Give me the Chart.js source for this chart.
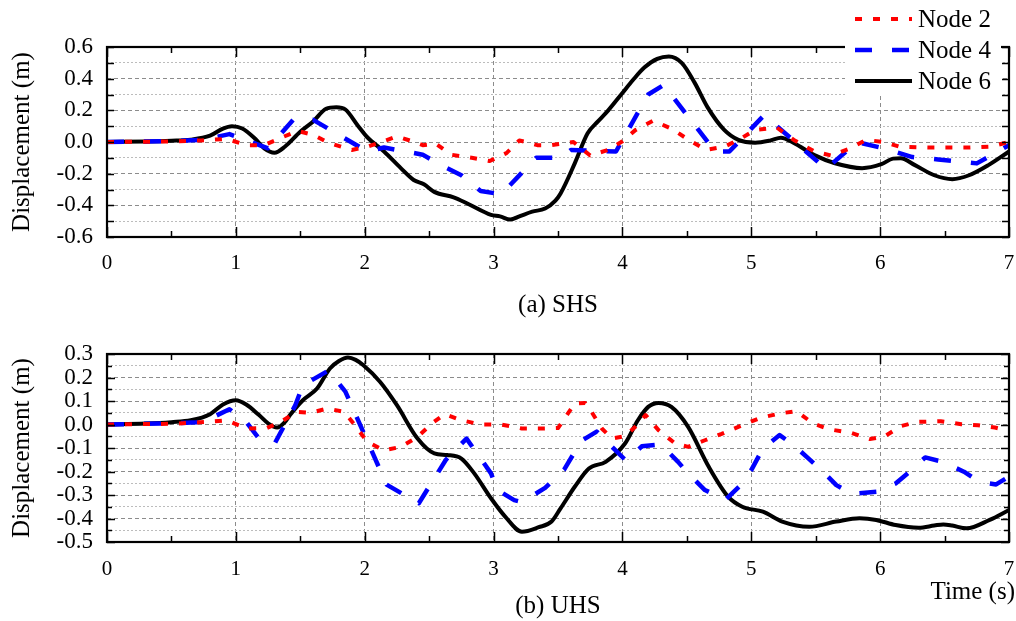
<!DOCTYPE html>
<html>
<head>
<meta charset="utf-8">
<script src="https://cdn.jsdelivr.net/npm/chart.js@4.4.1/dist/chart.umd.min.js"></script>
<style>
  html, body { margin: 0; padding: 0; background: #fff; }
  #wrap { position: relative; width: 1016px; height: 621px; overflow: hidden; background: #fff; }
  #shs { position: absolute; left: 0; top: 0; }
  #uhs { position: absolute; left: 0; top: 320px; }
</style>
</head>
<body>
<div id="wrap">
  <canvas id="shs" width="1016" height="320"></canvas>
  <canvas id="uhs" width="1016" height="301"></canvas>
</div>
<script>
// ---- (a) SHS : displacement histories (time in s, displacement in m) ----
const shsNode2T = [0, 0.5, 0.73, 0.93, 1.08, 1.22, 1.36, 1.48, 1.6, 1.72, 1.9, 2.02, 2.13, 2.25, 2.37, 2.45, 2.55, 2.67, 2.83, 2.97, 3.1, 3.2, 3.34, 3.45, 3.62, 3.75, 3.89, 4.0, 4.1, 4.24, 4.39, 4.52, 4.65, 4.79, 4.9, 5.03, 5.2, 5.33, 5.49, 5.62, 5.77, 5.89, 6.03, 6.15, 6.4, 6.7, 6.85, 7.0];
const shsNode2V = [0, 0.003, 0.01, 0.02, -0.02, -0.02, 0.03, 0.07, 0.045, -0.005, -0.05, -0.03, 0.0, 0.036, 0.004, -0.02, -0.01, -0.08, -0.1, -0.12, -0.07, 0.01, -0.02, -0.02, 0.0, -0.085, -0.05, 0.005, 0.075, 0.135, 0.08, 0.01, -0.05, -0.03, 0.013, 0.076, 0.09, 0.013, -0.06, -0.085, -0.04, 0.013, 0.0, -0.03, -0.035, -0.035, -0.03, 0.0];

const shsNode4T = [0, 0.5, 0.75, 0.95, 1.25, 1.45, 1.6, 2.02, 2.15, 2.45, 2.6, 2.75, 2.9, 3.06, 3.33, 3.52, 3.6, 3.95, 4.2, 4.32, 4.72, 4.83, 5.1, 5.58, 5.82, 6.03, 6.25, 6.45, 6.75, 7.0];
const shsNode4V = [0, 0.005, 0.015, 0.05, -0.04, 0.145, 0.14, -0.06, -0.035, -0.08, -0.15, -0.21, -0.31, -0.33, -0.1, -0.1, -0.05, -0.06, 0.3, 0.36, -0.06, -0.06, 0.17, -0.17, 0.0, -0.04, -0.095, -0.11, -0.135, -0.02];

const shsNode6T = [0, 0.3, 0.5, 0.65, 0.8, 0.9, 0.97, 1.05, 1.15, 1.22, 1.3, 1.38, 1.5, 1.6, 1.7, 1.78, 1.85, 1.95, 2.02, 2.15, 2.28, 2.38, 2.46, 2.54, 2.69, 2.8, 2.98, 3.05, 3.13, 3.2, 3.3, 3.4, 3.48, 3.52, 3.63, 3.73, 3.81, 3.89, 4.0, 4.08, 4.17, 4.27, 4.36, 4.46, 4.56, 4.66, 4.79, 4.9, 5.03, 5.15, 5.23, 5.33, 5.49, 5.65, 5.86, 6.01, 6.1, 6.16, 6.27, 6.42, 6.56, 6.69, 6.84, 7.0];
const shsNode6V = [0, 0.003, 0.008, 0.015, 0.04, 0.085, 0.1, 0.085, 0.02, -0.04, -0.068, -0.03, 0.065, 0.13, 0.21, 0.22, 0.205, 0.1, 0.03, -0.06, -0.165, -0.24, -0.267, -0.315, -0.35, -0.39, -0.46, -0.47, -0.49, -0.47, -0.44, -0.42, -0.37, -0.325, -0.135, 0.055, 0.13, 0.2, 0.31, 0.39, 0.47, 0.525, 0.54, 0.5, 0.375, 0.22, 0.076, 0.013, -0.004, 0.01, 0.027, -0.006, -0.083, -0.134, -0.165, -0.14, -0.105, -0.103, -0.146, -0.21, -0.235, -0.21, -0.146, -0.06];

// ---- (b) UHS ----
const uhsNode2T = [0, 0.5, 0.78, 0.93, 1.08, 1.24, 1.35, 1.47, 1.58, 1.71, 1.84, 1.92, 2.02, 2.15, 2.28, 2.41, 2.52, 2.62, 2.75, 2.9, 3.06, 3.22, 3.37, 3.5, 3.63, 3.71, 3.76, 3.84, 3.92, 4.02, 4.12, 4.18, 4.28, 4.41, 4.51, 4.64, 4.77, 4.93, 5.07, 5.22, 5.35, 5.48, 5.61, 5.77, 5.92, 6.03, 6.16, 6.29, 6.47, 6.63, 6.76, 6.89, 7.0];
const uhsNode2V = [0, 0.003, 0.011, 0.018, -0.017, -0.015, 0.011, 0.054, 0.05, 0.068, 0.054, 0.0, -0.074, -0.11, -0.095, -0.053, 0.004, 0.044, 0.018, 0.0, 0.0, -0.017, -0.017, -0.015, 0.089, 0.092, 0.054, -0.017, -0.06, -0.05, 0.0, 0.04, -0.024, -0.081, -0.095, -0.067, -0.04, -0.003, 0.028, 0.047, 0.057, 0.004, -0.021, -0.035, -0.062, -0.052, -0.007, 0.011, 0.014, 0.001, -0.003, -0.013, -0.027];

const uhsNode4T = [0, 0.5, 0.7, 0.8, 0.95, 1.08, 1.18, 1.3, 1.39, 1.46, 1.52, 1.72, 1.85, 2.17, 2.42, 2.63, 2.79, 2.9, 2.98, 3.03, 3.16, 3.22, 3.4, 3.55, 3.68, 3.8, 4.03, 4.15, 4.3, 4.43, 4.51, 4.64, 4.8, 4.93, 5.0, 5.09, 5.22, 5.33, 5.43, 5.57, 5.66, 5.78, 5.98, 6.12, 6.22, 6.35, 6.48, 6.65, 6.77, 6.9, 7.0];
const uhsNode4V = [0, 0.005, 0.01, 0.025, 0.065, 0.011, -0.06, -0.082, 0.01, 0.08, 0.167, 0.23, 0.14, -0.256, -0.335, -0.15, -0.06, -0.145, -0.208, -0.279, -0.322, -0.33, -0.27, -0.19, -0.07, -0.03, -0.155, -0.093, -0.085, -0.158, -0.208, -0.279, -0.32, -0.251, -0.194, -0.102, -0.045, -0.088, -0.138, -0.208, -0.258, -0.295, -0.286, -0.251, -0.205, -0.14, -0.158, -0.201, -0.244, -0.255, -0.222];

const uhsNode6T = [0, 0.3, 0.5, 0.65, 0.8, 0.9, 1.0, 1.08, 1.18, 1.25, 1.32, 1.38, 1.42, 1.52, 1.63, 1.73, 1.8, 1.87, 1.93, 1.99, 2.12, 2.25, 2.41, 2.54, 2.64, 2.75, 2.85, 2.98, 3.09, 3.22, 3.35, 3.45, 3.52, 3.63, 3.74, 3.87, 4.02, 4.12, 4.2, 4.28, 4.38, 4.51, 4.67, 4.82, 4.93, 5.09, 5.24, 5.45, 5.66, 5.84, 5.97, 6.12, 6.3, 6.42, 6.49, 6.56, 6.67, 6.85, 7.0];
const uhsNode6V = [0, 0.004, 0.01, 0.018, 0.044, 0.085, 0.103, 0.085, 0.04, 0.005, -0.013, 0.01, 0.04, 0.103, 0.153, 0.238, 0.27, 0.285, 0.275, 0.252, 0.181, 0.082, -0.06, -0.123, -0.13, -0.145, -0.208, -0.314, -0.392, -0.456, -0.437, -0.413, -0.357, -0.265, -0.187, -0.159, -0.081, 0.018, 0.075, 0.092, 0.075, -0.01, -0.18, -0.307, -0.35, -0.371, -0.413, -0.435, -0.413, -0.399, -0.406, -0.428, -0.439, -0.43, -0.425, -0.43, -0.442, -0.406, -0.364];

const seriesNames = ['Node 2', 'Node 4', 'Node 6'];
const timeTicks = [0, 1, 2, 3, 4, 5, 6, 7];

// ---- styling ----
const SERIF = "'Liberation Serif', 'Times New Roman', 'DejaVu Serif', serif";
const styles = [
  { color: '#ff0000', width: 4, dash: [7, 11] },
  { color: '#0000ff', width: 4.5, dash: [17, 20] },
  { color: '#000000', width: 4, dash: [] }
];

const toPoints = (ts, vs) => ts.map((t, i) => ({ x: t, y: vs[i] }));

// frame around the plot area with inward tick marks
const framePlugin = {
  id: 'frame',
  afterDatasetsDraw(chart, args, opts) {
    const { ctx, chartArea: a, scales } = chart;
    ctx.save();
    ctx.strokeStyle = '#000';
    ctx.lineWidth = 1.5;
    ctx.setLineDash([]);
    // x ticks every 0.5 s
    for (let k = 0; k <= 14; k++) {
      const v = k * 0.5;
      const px = Math.round(scales.x.getPixelForValue(v)) + 0.5;
      const len = (k % 2 === 0) ? 10 : 6;
      ctx.beginPath();
      ctx.moveTo(px, a.bottom); ctx.lineTo(px, a.bottom - len);
      ctx.moveTo(px, a.top); ctx.lineTo(px, a.top + len);
      ctx.stroke();
    }
    // y ticks at each minor step
    const y = scales.y;
    const n = Math.round((y.max - y.min) / opts.step);
    for (let k = 0; k <= n; k++) {
      const v = y.min + k * opts.step;
      const py = Math.round(y.getPixelForValue(v)) + 0.5;
      const len = (k % 2 === opts.majorParity) ? opts.major : opts.minor;
      ctx.beginPath();
      ctx.moveTo(a.left, py); ctx.lineTo(a.left + len, py);
      ctx.moveTo(a.right, py); ctx.lineTo(a.right - len, py);
      ctx.stroke();
    }
    ctx.lineWidth = 2.2;
    ctx.strokeRect(a.left, a.top, a.right - a.left, a.bottom - a.top);
    ctx.restore();
  }
};

// legend box in the upper right corner
const legendPlugin = {
  id: 'nodeLegend',
  afterDraw(chart, args, opts) {
    if (!opts.show) return;
    const ctx = chart.ctx;
    ctx.save();
    ctx.fillStyle = '#fff';
    ctx.fillRect(845, 0, 156, 95);
    const rows = [19, 50, 81];
    seriesNames.forEach((name, i) => {
      const s = styles[i];
      ctx.strokeStyle = s.color;
      ctx.lineWidth = s.width;
      ctx.setLineDash(s.dash);
      ctx.lineCap = 'butt';
      ctx.beginPath();
      ctx.moveTo(855, rows[i]);
      ctx.lineTo(912, rows[i]);
      ctx.stroke();
      ctx.setLineDash([]);
      ctx.fillStyle = '#000';
      ctx.font = '25px ' + SERIF;
      ctx.textAlign = 'left';
      ctx.textBaseline = 'middle';
      ctx.fillText(name, 918, rows[i] + 1);
    });
    ctx.restore();
  }
};

// time axis caption under the lower panel
const timeLabelPlugin = {
  id: 'timeLabel',
  afterDraw(chart, args, opts) {
    if (!opts.text) return;
    const ctx = chart.ctx;
    ctx.save();
    ctx.fillStyle = '#000';
    ctx.font = '25px ' + SERIF;
    ctx.textAlign = 'right';
    ctx.textBaseline = 'middle';
    ctx.fillText(opts.text, 1015, opts.y);
    ctx.restore();
  }
};

function makePanel(canvas, cfg) {
  const sets = [
    toPoints(cfg.t2, cfg.v2),
    toPoints(cfg.t4, cfg.v4),
    toPoints(cfg.t6, cfg.v6)
  ];
  const isMajor = (v) => Math.round(v / cfg.step) % 2 === 0;
  return new Chart(canvas, {
    type: 'line',
    data: {
      datasets: sets.map((d, i) => ({
        label: seriesNames[i],
        data: d,
        borderColor: styles[i].color,
        borderWidth: styles[i].width,
        borderDash: styles[i].dash,
        borderCapStyle: 'butt',
        borderJoinStyle: 'round',
        pointRadius: 0,
        fill: false,
        tension: 0,
        cubicInterpolationMode: i === 2 ? 'monotone' : 'default'
      }))
    },
    options: {
      responsive: false,
      animation: false,
      events: [],
      layout: { padding: { top: cfg.padTop, right: 7, left: 0, bottom: 0 } },
      plugins: {
        legend: { display: false },
        tooltip: { enabled: false },
        frame: { step: cfg.step, major: cfg.tickMajor, minor: cfg.tickMinor, majorParity: cfg.majorParity },
        nodeLegend: { show: cfg.legend },
        timeLabel: { text: cfg.timeText, y: cfg.timeY }
      },
      scales: {
        x: {
          type: 'linear',
          min: 0, max: 7,
          afterBuildTicks: (s) => { s.ticks = timeTicks.map(v => ({ value: v })); },
          ticks: {
            autoSkip: false, maxRotation: 0, padding: cfg.xPad,
            color: '#000', font: { family: SERIF, size: 21 },
            callback: (v) => String(v)
          },
          grid: { color: '#8c8c8c', lineWidth: 1, drawTicks: false },
          border: { display: false, dash: [4, 3] },
          title: {
            display: true, text: cfg.caption, color: '#000',
            font: { family: SERIF, size: 25 }, padding: { top: 0, bottom: 0 }
          },
          afterFit: (s) => { s.height = cfg.xHeight; s.paddingLeft = 0; s.paddingRight = 0; }
        },
        y: {
          min: cfg.yMin, max: cfg.yMax,
          ticks: {
            stepSize: cfg.step, autoSkip: false, padding: 14,
            color: '#000', font: { family: SERIF, size: 23 },
            callback: (v) => isMajor(v) ? (Math.round(v * 10) / 10).toFixed(1) : ''
          },
          grid: {
            lineWidth: 1, drawTicks: false,
            color: (c) => isMajor(c.tick.value) ? '#8c8c8c' : '#bcbcbc'
          },
          border: {
            display: false,
            dash: (c) => (c.tick && isMajor(c.tick.value)) ? [4, 3] : [2, 2]
          },
          title: {
            display: true, text: 'Displacement (m)', color: '#000',
            font: { family: SERIF, size: 25 }, padding: { top: 7, bottom: 0 }
          },
          afterFit: (s) => { s.width = 107; s.paddingTop = 0; s.paddingBottom = 0; }
        }
      }
    },
    plugins: [framePlugin, legendPlugin, timeLabelPlugin]
  });
}

makePanel(document.getElementById('shs'), {
  t2: shsNode2T, v2: shsNode2V, t4: shsNode4T, v4: shsNode4V, t6: shsNode6T, v6: shsNode6V,
  yMin: -0.6, yMax: 0.6, step: 0.1,
  tickMajor: 7, tickMinor: 7, majorParity: 0,
  padTop: 47, xHeight: 83, xPad: 14,
  caption: '(a) SHS', legend: true, timeText: ''
});

makePanel(document.getElementById('uhs'), {
  t2: uhsNode2T, v2: uhsNode2V, t4: uhsNode4T, v4: uhsNode4V, t6: uhsNode6T, v6: uhsNode6V,
  yMin: -0.5, yMax: 0.3, step: 0.05,
  tickMajor: 8, tickMinor: 5, majorParity: 0,
  padTop: 34, xHeight: 79, xPad: 15,
  caption: '(b) UHS', legend: false, timeText: 'Time (s)', timeY: 272
});
</script>
</body>
</html>
